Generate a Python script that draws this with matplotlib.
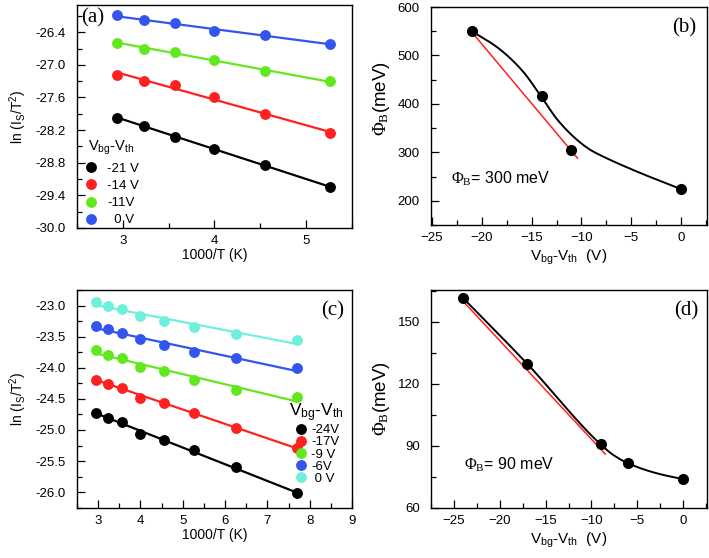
import numpy as np
import matplotlib
matplotlib.use("Agg")
import matplotlib.pyplot as plt
from matplotlib.ticker import MultipleLocator

plt.rcParams['font.family'] = ['Liberation Sans', 'DejaVu Sans']
plt.rcParams['mathtext.fontset'] = 'custom'
plt.rcParams['mathtext.rm'] = 'Liberation Serif'
plt.rcParams['mathtext.sf'] = 'Liberation Sans'
plt.rcParams['mathtext.it'] = 'Liberation Sans:italic'
plt.rcParams['mathtext.default'] = 'sf'

# ---- data: panel (a), 1000/T and ln(Is/T^2) for each gate voltage
xa = [2.94, 3.23, 3.57, 4.00, 4.55, 5.26]
a_m21 = [-27.97, -28.13, -28.32, -28.55, -28.84, -29.25]
a_m14 = [-27.19, -27.30, -27.37, -27.60, -27.91, -28.26]
a_m11 = [-26.59, -26.70, -26.76, -26.92, -27.12, -27.30]
a_0 = [-26.09, -26.18, -26.24, -26.38, -26.46, -26.61]
a_labels = ["-21 V", "-14 V", "-11V", "  0 V"]

# ---- panel (b), barrier height vs gate voltage
vb = [-21, -14, -11, 0]
phib = [550, 417, 305, 224]
# guide curve
vb_curve = [-21, -18.4, -16, -14, -12.4, -10.4, -9.1, -7.8, -4.4, 0]
phib_curve = [550, 516, 470, 414, 367, 325, 305, 291, 260, 224]
vb_red = [-21, -10.4]
phib_red = [548, 288]

# ---- panel (c)
xc = [2.94, 3.23, 3.57, 4.00, 4.55, 5.26, 6.25, 7.69]
c_m24 = [-24.72, -24.81, -24.88, -25.07, -25.16, -25.33, -25.60, -26.02]
c_m17 = [-24.19, -24.26, -24.32, -24.48, -24.56, -24.72, -24.97, -25.29]
c_m9 = [-23.71, -23.79, -23.85, -23.99, -24.06, -24.19, -24.35, -24.47]
c_m6 = [-23.33, -23.38, -23.44, -23.54, -23.63, -23.75, -23.85, -24.01]
c_0 = [-22.95, -23.01, -23.05, -23.16, -23.25, -23.35, -23.45, -23.56]
c_labels = ["-24V", "-17V", "-9 V", "-6V", " 0 V"]

# ---- panel (d)
vd = [-24, -17, -9, -6, 0]
phid = [161.6, 129.7, 90.7, 81.5, 73.8]
vd_curve = [-24, -17, -9, -7.6, -6, -2.9, 0]
phid_curve = [161.6, 129.7, 90.7, 85.5, 81.5, 76.7, 73.8]
vd_red = [-24.2, -8.5]
phid_red = [161, 86]

black = '#000000'
red = '#ff2020'
green = '#62e81e'
blue = '#3355ee'
cyan = '#70f0dc'


def smooth(x, y, n=200):
    # monotone cubic (Fritsch-Carlson) through the guide points
    x = np.asarray(x, float)
    y = np.asarray(y, float)
    h = np.diff(x)
    d = np.diff(y) / h
    m = np.zeros_like(y)
    m[0], m[-1] = d[0], d[-1]
    for i in range(1, len(x) - 1):
        if d[i - 1] * d[i] > 0:
            w1 = 2 * h[i] + h[i - 1]
            w2 = h[i] + 2 * h[i - 1]
            m[i] = (w1 + w2) / (w1 / d[i - 1] + w2 / d[i])
    xs = np.linspace(x[0], x[-1], n)
    k = np.clip(np.searchsorted(x, xs) - 1, 0, len(h) - 1)
    t = (xs - x[k]) / h[k]
    h00 = 2 * t**3 - 3 * t**2 + 1
    h10 = t**3 - 2 * t**2 + t
    h01 = -2 * t**3 + 3 * t**2
    h11 = t**3 - t**2
    ys = h00 * y[k] + h10 * h[k] * m[k] + h01 * y[k + 1] + h11 * h[k] * m[k + 1]
    return xs, ys


fig = plt.figure(figsize=(7.09, 5.58), dpi=100)
W, H = 709, 558
ax_a = fig.add_axes([77 / W, 1 - 228 / H, 275 / W, 223 / H])
ax_b = fig.add_axes([431 / W, 1 - 225 / H, 276 / W, 218 / H])
ax_c = fig.add_axes([77 / W, 1 - 507.7 / H, 275 / W, 217.7 / H])
ax_d = fig.add_axes([431 / W, 1 - 507.7 / H, 276 / W, 217.7 / H])


def style(ax):
    ax.tick_params(which='both', direction='in', top=False, right=False,
                   labelsize=9.5)
    ax.tick_params(which='major', length=6, width=0.9)
    ax.tick_params(which='minor', length=3.5, width=0.9)
    ax.tick_params(axis='y', pad=8)
    ax.tick_params(axis='x', pad=5)
    for s in ax.spines.values():
        s.set_linewidth(1.0)


def fit_panel(ax, x, series, colors, labels):
    for y, col, lab in zip(series, colors, labels):
        k, b = np.polyfit(x, y, 1)
        xx = np.array([x[0], x[-1]])
        ax.plot(xx, k * xx + b, color=col, lw=1.6)
        ax.plot(x, y, 'o', color=col, ms=6.8, ls='none', label=lab)


# (a)
fit_panel(ax_a, xa, [a_m21, a_m14, a_m11, a_0],
          [black, red, green, blue], a_labels)
ax_a.set_xlim(2.5, 5.5)
ax_a.set_ylim(-30.0, -25.9)
ax_a.xaxis.set_major_locator(MultipleLocator(1))
ax_a.xaxis.set_minor_locator(MultipleLocator(0.5))
ax_a.yaxis.set_major_locator(MultipleLocator(0.6))
ax_a.yaxis.set_minor_locator(MultipleLocator(0.3))
ax_a.yaxis.set_major_formatter(lambda v, p: f"{v:.1f}")
ax_a.set_xlabel("1000/T (K)", fontsize=10, labelpad=1)
ax_a.set_ylabel("ln (I$_S$/T$^2$)", fontsize=10, labelpad=5)
style(ax_a)
ax_a.text(0.015, 0.985, "(a)", transform=ax_a.transAxes, ha='left', va='top',
          fontsize=15, family='Liberation Serif')
ax_a.legend(loc='upper left', bbox_to_anchor=(-0.01, 0.44), frameon=False,
            title="V$_{bg}$-V$_{th}$", title_fontsize=10.5, fontsize=9.5,
            handletextpad=0.6, labelspacing=0.38, borderpad=0.2,
            handlelength=1.2)

# (b)
xs, ys = smooth(vb_curve, phib_curve)
ax_b.plot(xs, ys, color=black, lw=1.4)
ax_b.plot(vb_red, phib_red, color=red, lw=1.1)
ax_b.plot(vb, phib, 'o', color=black, ms=7)
ax_b.set_xlim(-25.1, 2.6)
ax_b.set_ylim(150, 600)
ax_b.xaxis.set_major_locator(MultipleLocator(5))
ax_b.xaxis.set_minor_locator(MultipleLocator(2.5))
ax_b.yaxis.set_major_locator(MultipleLocator(100))
ax_b.yaxis.set_minor_locator(MultipleLocator(50))
ax_b.set_xlabel("V$_{bg}$-V$_{th}$  (V)", fontsize=11, labelpad=3)
ax_b.set_ylabel(r"$\mathrm{\Phi_B}$(meV)", fontsize=13.5, labelpad=4, y=0.58)
style(ax_b)
ax_b.text(0.96, 0.95, "(b)", transform=ax_b.transAxes, ha='right', va='top',
          fontsize=15, family='Liberation Serif')
ax_b.text(-23.1, 245, r"$\mathrm{\Phi_B}$= 300 meV", fontsize=11.5, ha='left',
          va='center')

# (c)
fit_panel(ax_c, xc, [c_m24, c_m17, c_m9, c_m6, c_0],
          [black, red, green, blue, cyan], c_labels)
ax_c.set_xlim(2.5, 9.0)
ax_c.set_ylim(-26.25, -22.75)
ax_c.xaxis.set_major_locator(MultipleLocator(1))
ax_c.xaxis.set_minor_locator(MultipleLocator(0.5))
ax_c.yaxis.set_major_locator(MultipleLocator(0.5))
ax_c.yaxis.set_minor_locator(MultipleLocator(0.25))
ax_c.yaxis.set_major_formatter(lambda v, p: f"{v:.1f}")
ax_c.set_xlabel("1000/T (K)", fontsize=10, labelpad=1)
ax_c.set_ylabel("ln (I$_S$/T$^2$)", fontsize=10, labelpad=5)
style(ax_c)
ax_c.text(0.97, 0.95, "(c)", transform=ax_c.transAxes, ha='right', va='top',
          fontsize=15, family='Liberation Serif')
ax_c.legend(loc='upper right', bbox_to_anchor=(1.0, 0.525), frameon=False,
            title="V$_{bg}$-V$_{th}$", title_fontsize=12.5, fontsize=9.5,
            handletextpad=0.3, labelspacing=0.0, borderpad=0.1,
            handlelength=1.0)

# (d)
xs, ys = smooth(vd_curve, phid_curve)
ax_d.plot(xs, ys, color=black, lw=1.4)
ax_d.plot(vd_red, phid_red, color=red, lw=1.1)
ax_d.plot(vd, phid, 'o', color=black, ms=7)
ax_d.set_xlim(-27.5, 2.6)
ax_d.set_ylim(60, 165.5)
ax_d.xaxis.set_major_locator(MultipleLocator(5))
ax_d.xaxis.set_minor_locator(MultipleLocator(2.5))
ax_d.yaxis.set_major_locator(MultipleLocator(30))
ax_d.yaxis.set_minor_locator(MultipleLocator(15))
ax_d.set_xlabel("V$_{bg}$-V$_{th}$  (V)", fontsize=11, labelpad=3)
ax_d.set_ylabel(r"$\mathrm{\Phi_B}$(meV)", fontsize=13.5, labelpad=4)
style(ax_d)
ax_d.text(0.97, 0.95, "(d)", transform=ax_d.transAxes, ha='right', va='top',
          fontsize=15, family='Liberation Serif')
ax_d.text(-23.9, 81, r"$\mathrm{\Phi_B}$= 90 meV", fontsize=11.5, ha='left',
          va='center')

fig.savefig("out.png", dpi=100)
